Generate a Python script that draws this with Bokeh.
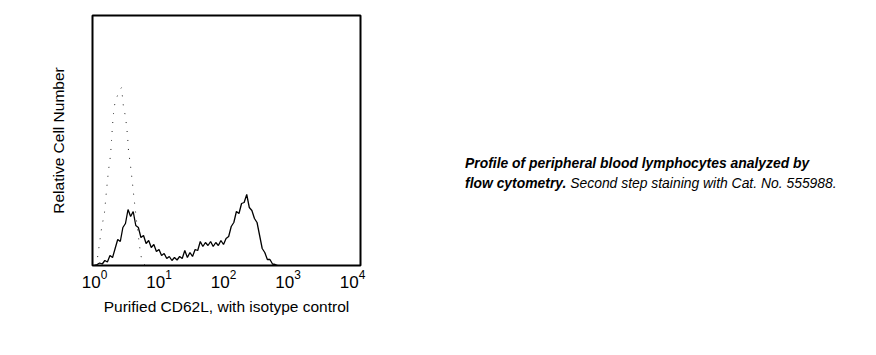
import numpy as np
from bokeh.plotting import figure
from bokeh.models import Range1d, FixedTicker, Div
from bokeh.layouts import row
from bokeh.embed import file_html
from bokeh.resources import INLINE

# CD62L histogram (solid): log10 fluorescence channel and relative count
cd62l_log = [0.00, 0.04, 0.08, 0.12, 0.16, 0.20, 0.24, 0.28, 0.32, 0.36,
             0.40, 0.44, 0.48, 0.52, 0.56, 0.60, 0.64, 0.68, 0.72, 0.76,
             0.80, 0.84, 0.88, 0.92, 0.96, 1.00, 1.04, 1.08, 1.12, 1.16,
             1.20, 1.24, 1.28, 1.32, 1.36, 1.40, 1.44, 1.48, 1.52, 1.56,
             1.60, 1.64, 1.68, 1.72, 1.76, 1.80, 1.84, 1.88, 1.92, 1.96,
             2.00, 2.04, 2.08, 2.12, 2.16, 2.20, 2.24, 2.28, 2.32, 2.36,
             2.40, 2.44, 2.48, 2.52, 2.56, 2.60, 2.64, 2.68, 2.72, 2.76,
             2.80, 2.84]
cd62l_count = [0, 1, 2.5, 1.5, 5, 3.5, 10, 8, 17, 26,
               24, 38, 42, 56, 49, 54, 40, 38, 28, 30,
               22, 25, 18, 21, 14, 16, 10, 12, 7, 9,
               5, 8, 5.5, 9, 7, 15, 8, 13, 9, 16,
               15, 24, 19, 23, 20, 24, 19, 23, 20, 25,
               21, 27, 29, 39, 43, 54, 52, 62, 63, 71,
               58, 55, 47, 43, 30, 17, 13, 6, 6, 1.5,
               1, 0]

# Isotype control histogram (dotted)
iso_log = [0.00, 0.016, 0.047, 0.109, 0.155, 0.186, 0.217, 0.248, 0.264, 0.279,
           0.295, 0.310, 0.326, 0.357, 0.388, 0.419, 0.450, 0.481, 0.512, 0.527,
           0.558, 0.589, 0.605, 0.651, 0.713, 0.744, 0.791]
iso_count = [0, 2, 8, 37, 53, 75, 95, 110, 125, 140,
             152, 160, 165, 170, 175, 178, 158, 149, 130, 115,
             100, 82, 72, 45, 12, 3, 0]

tick_values = [1, 10, 100, 1000, 10000]
x_label = "Purified CD62L, with isotype control"
y_label = "Relative Cell Number"
caption_bold = "Profile of peripheral blood lymphocytes analyzed by<br>flow cytometry."
caption_rest = " Second step staining with Cat. No. 555988."

FONT = "Liberation Sans"

p = figure(width=440, height=355, x_axis_type="log",
           x_range=Range1d(10 ** -0.031, 10 ** 4.124), y_range=Range1d(0, 250),
           output_backend="svg", toolbar_location=None,
           min_border_left=92, min_border_right=80, min_border_top=15, min_border_bottom=90)

p.line(10 ** np.array(iso_log), iso_count, line_color="#222222", line_width=1, line_dash="1 8")
p.line(10 ** np.array(cd62l_log), cd62l_count, line_color="black", line_width=1.3)

p.outline_line_color = "black"
p.outline_line_width = 2
p.outline_line_alpha = 1
p.xgrid.visible = False
p.ygrid.visible = False
p.background_fill_color = "white"
p.border_fill_color = "white"

xa = p.xaxis[0]
xa.ticker = FixedTicker(ticks=tick_values)
xa.axis_line_color = None
xa.major_tick_line_color = None
xa.minor_tick_line_color = None
xa.major_tick_out = 0
xa.major_tick_in = 0
xa.major_label_standoff = 4
xa.major_label_text_font = FONT
xa.major_label_text_font_size = "17px"
xa.major_label_text_color = "black"
xa.axis_label = x_label
xa.axis_label_text_font = FONT
xa.axis_label_text_font_size = "15.5px"
xa.axis_label_text_font_style = "normal"
xa.axis_label_text_color = "black"
xa.axis_label_standoff = 7

ya = p.yaxis[0]
ya.ticker = FixedTicker(ticks=[])
ya.axis_line_color = None
ya.major_tick_line_color = None
ya.minor_tick_line_color = None
ya.major_tick_out = 0
ya.major_tick_in = 0
ya.major_label_standoff = 0
ya.axis_label = y_label
ya.axis_label_text_font = FONT
ya.axis_label_text_font_size = "15.5px"
ya.axis_label_text_font_style = "normal"
ya.axis_label_text_color = "black"
ya.axis_label_standoff = 26

caption = Div(
    text=('<div style="padding-left:25px;padding-top:153px;font-family:\'Liberation Sans\',Arial,sans-serif;'
          'font-size:13.9px;line-height:20px;font-style:italic;white-space:nowrap;color:#000">'
          '<b>' + caption_bold + '</b>' + caption_rest + '</div>'),
    width=436, height=355, margin=0)

layout = row(p, caption)
open("out.html", "w").write(file_html(layout, INLINE))
